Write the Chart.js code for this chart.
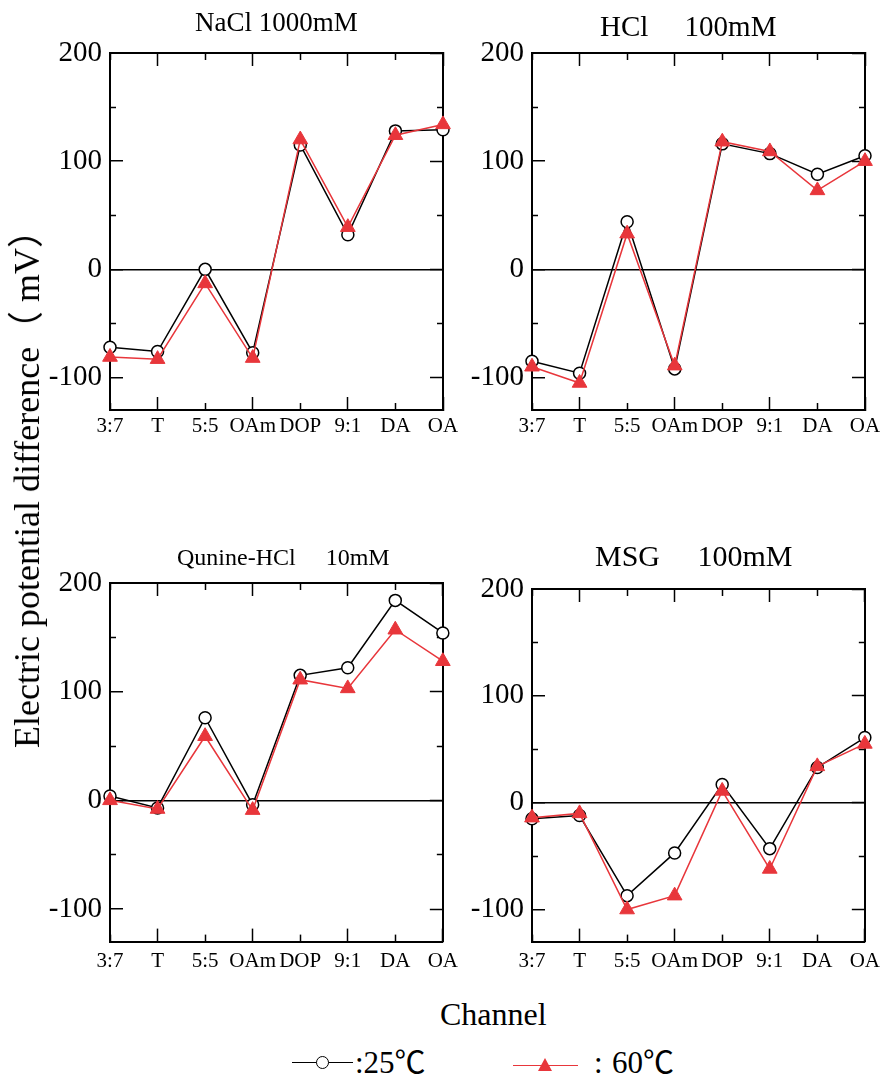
<!DOCTYPE html>
<html><head><meta charset="utf-8">
<script src="https://cdn.jsdelivr.net/npm/chart.js@4.4.1/dist/chart.umd.min.js"></script>
<style>
html,body{margin:0;padding:0;background:#fff;}
body{width:880px;height:1077px;position:relative;overflow:hidden;font-family:"Liberation Serif","Times New Roman","Noto Sans CJK JP",serif;color:#000;}
canvas{position:absolute;display:block;}
.t{position:absolute;white-space:pre;line-height:1;color:#000;}
.ln{position:absolute;height:0;}
</style></head><body>
<canvas id="c1" width="478" height="450" style="left:0;top:0"></canvas>
<canvas id="c2" width="460" height="450" style="left:440px;top:0"></canvas>
<canvas id="c3" width="478" height="450" style="left:0;top:530px"></canvas>
<canvas id="c4" width="460" height="450" style="left:440px;top:530px"></canvas>

<div class="t" style="left:195px;top:9px;font-size:27px">NaCl 1000mM</div>
<div class="t" style="left:600px;top:12px;font-size:29px">HCl     100mM</div>
<div class="t" style="left:177px;top:545px;font-size:24px">Qunine-HCl     10mM</div>
<div class="t" style="left:595px;top:541px;font-size:30px">MSG     100mM</div>

<div class="t" style="left:27px;top:480px;font-size:36px;transform:translate(-50%,-50%) rotate(-90deg)">Electric potential difference（ mV）</div>
<div class="t" style="left:440px;top:998px;font-size:32px">Channel</div>

<div class="ln" style="left:292px;top:1062px;width:61px;border-top:1.5px solid #000"></div>
<div style="position:absolute;left:316px;top:1056px;width:11px;height:11px;border:1.5px solid #000;border-radius:50%;background:#fff"></div>
<div class="t" style="left:355px;top:1047px;font-size:31px">:25℃</div>
<div class="ln" style="left:513px;top:1065px;width:65px;border-top:1.5px solid #e8363b"></div>
<div style="position:absolute;left:538px;top:1058px;width:0;height:0;border-left:7px solid transparent;border-right:7px solid transparent;border-bottom:13px solid #e8363b"></div>
<div class="t" style="left:594px;top:1047px;font-size:31px">:</div>
<div class="t" style="left:612px;top:1047px;font-size:31px">60℃</div>

<script>
// ---- data ----
const channels = ['3:7', 'T', '5:5', 'OAm', 'DOP', '9:1', 'DA', 'OA'];
const yMajorTicks = [-100, 0, 100, 200];
const yMinorTicks = [-50, 50, 150];
const Y_MIN = -130;
const Y_MAX = 200;

const nacl25 = [-72, -76, 0, -77, 115, 32, 128, 129];
const nacl60 = [-81, -83, -13, -82, 120, 39, 124, 134];
const hcl25 = [-85, -96, 44, -92, 116, 107, 88, 105];
const hcl60 = [-90, -105, 33, -89, 118, 109, 73, 100];
const quinine25 = [4, -7, 76, -4, 115, 122, 184, 154];
const quinine60 = [0, -8, 59, -9, 111, 103, 157, 128];
const msg25 = [-15, -12, -87, -47, 17, -43, 33, 61];
const msg60 = [-14, -10, -100, -87, 11, -62, 34, 55];

// ---- styling ----
const FONT = "'Liberation Serif','Times New Roman',serif";
const RED = '#e8363b';
const CLEAR = 'rgba(0,0,0,0)';

function tickList(vals) { return vals.map(v => ({ value: v })); }

function panel(id, s25, s60, g) {
  const lin = (extra) => Object.assign({ type: 'linear', min: Y_MIN, max: Y_MAX, bounds: 'data' }, extra);
  new Chart(document.getElementById(id), {
    type: 'line',
    data: {
      labels: channels,
      datasets: [
        { label: '60℃', data: s60, borderColor: RED, backgroundColor: RED, borderWidth: 1.5,
          pointStyle: 'triangle', pointRadius: 8.5, pointHoverRadius: 8.5,
          pointBackgroundColor: RED, pointBorderColor: RED, pointBorderWidth: 1,
          order: 0, clip: false, tension: 0, xAxisID: 'x', yAxisID: 'y' },
        { label: '25℃', data: s25, borderColor: '#000', backgroundColor: '#fff', borderWidth: 1.5,
          pointStyle: 'circle', pointRadius: 6, pointHoverRadius: 6,
          pointBackgroundColor: '#fff', pointBorderColor: '#000', pointBorderWidth: 1.5,
          order: 1, clip: false, tension: 0, xAxisID: 'x', yAxisID: 'y' }
      ]
    },
    options: {
      responsive: false, animation: false, events: [],
      layout: { padding: { top: g.pt, right: 35, bottom: 0, left: 0 } },
      plugins: { legend: { display: false }, tooltip: { enabled: false }, title: { display: false } },
      scales: {
        x: { type: 'category', position: 'bottom', offset: false,
             grid: { drawOnChartArea: false, tickLength: -13, tickWidth: 1.5,
                     tickColor: c => (c.index % 2 === 1 ? '#000' : CLEAR) },
             border: { display: true, color: '#000', width: 2 },
             ticks: { autoSkip: false, maxRotation: 0, minRotation: 0, padding: g.lp, color: '#000',
                      font: { family: FONT, size: 21 } },
             afterFit: s => { s.height = g.xh; } },
        xs: { type: 'category', position: 'bottom', weight: -1, offset: false,
              grid: { drawOnChartArea: false, tickLength: -7, tickWidth: 1.5,
                      tickColor: c => (c.index % 2 === 0 ? '#000' : CLEAR) },
              border: { display: false }, ticks: { display: false, autoSkip: false },
              afterFit: s => { s.height = 0; } },
        xt: { type: 'category', position: 'top', offset: false,
              grid: { drawOnChartArea: false, tickLength: -13, tickWidth: 1.5,
                      tickColor: c => (c.index % 2 === 1 ? '#000' : CLEAR) },
              border: { display: true, color: '#000', width: 2 }, ticks: { display: false, autoSkip: false },
              afterFit: s => { s.height = 0; } },
        xts: { type: 'category', position: 'top', weight: -1, offset: false,
               grid: { drawOnChartArea: false, tickLength: -7, tickWidth: 1.5,
                       tickColor: c => (c.index % 2 === 0 ? '#000' : CLEAR) },
               border: { display: false }, ticks: { display: false, autoSkip: false },
               afterFit: s => { s.height = 0; } },
        y: lin({ position: 'left',
             afterBuildTicks: s => { s.ticks = tickList(yMajorTicks); },
             grid: { drawOnChartArea: true, lineWidth: 1.5,
                     color: c => (c.tick && c.tick.value === 0 ? '#000' : CLEAR),
                     tickLength: -13, tickWidth: 1.5, tickColor: '#000' },
             border: { display: true, color: '#000', width: 2 },
             ticks: { padding: 21, color: '#000', font: { family: FONT, size: 29 },
                      callback: v => String(v) },
             afterFit: s => { s.width = g.yw; } }),
        ys: lin({ position: 'left', weight: -1,
              afterBuildTicks: s => { s.ticks = tickList(yMinorTicks); },
              grid: { drawOnChartArea: false, tickLength: -6, tickWidth: 1.5, tickColor: '#000' },
              border: { display: false }, ticks: { display: false },
              afterFit: s => { s.width = 0; } }),
        yr: lin({ position: 'right',
              afterBuildTicks: s => { s.ticks = tickList(yMajorTicks); },
              grid: { drawOnChartArea: false, tickLength: -13, tickWidth: 1.5, tickColor: '#000' },
              border: { display: true, color: '#000', width: 2 }, ticks: { display: false },
              afterFit: s => { s.width = 0; } }),
        yrs: lin({ position: 'right', weight: -1,
               afterBuildTicks: s => { s.ticks = tickList(yMinorTicks); },
               grid: { drawOnChartArea: false, tickLength: -6, tickWidth: 1.5, tickColor: '#000' },
               border: { display: false }, ticks: { display: false },
               afterFit: s => { s.width = 0; } })
      }
    }
  });
}

panel('c1', nacl25, nacl60, { pt: 53, yw: 110, xh: 40, lp: 17 });
panel('c2', hcl25, hcl60, { pt: 53, yw: 92, xh: 40, lp: 17 });
panel('c3', quinine25, quinine60, { pt: 53, yw: 110, xh: 36, lp: 20 });
panel('c4', msg25, msg60, { pt: 59, yw: 92, xh: 36, lp: 20 });
</script>
</body></html>
